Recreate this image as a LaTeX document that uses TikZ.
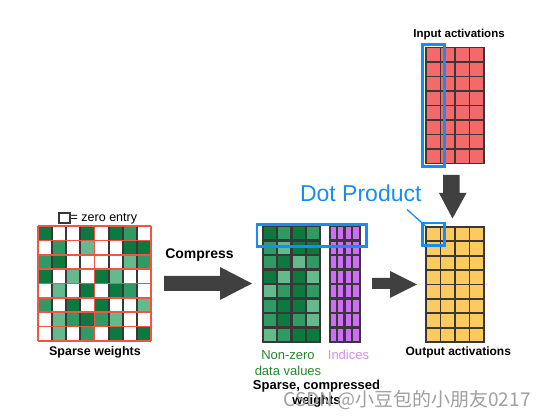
\documentclass[tikz,border=0pt]{standalone}
\usepackage{fontspec}
\setmainfont{Liberation Sans}
\newfontfamily\cjk{Noto Sans CJK SC}
\usetikzlibrary{calc}
\definecolor{wcell0}{RGB}{255,255,255}
\definecolor{wcell1}{RGB}{12,122,62}
\definecolor{wcell2}{RGB}{48,154,100}
\definecolor{wcell3}{RGB}{100,186,140}
\definecolor{redline}{RGB}{240,84,66}
\definecolor{gridgray}{RGB}{56,56,56}
\definecolor{arrowgray}{RGB}{64,64,64}
\definecolor{hiblue}{RGB}{24,140,240}
\definecolor{actred}{RGB}{244,106,106}
\definecolor{actyellow}{RGB}{253,202,96}
\definecolor{idxpurple}{RGB}{206,110,246}
\definecolor{idxtext}{RGB}{214,140,244}
\definecolor{nztext}{RGB}{34,136,44}
\def\fsz#1{\fontsize{#1}{#1}\selectfont}
\tikzset{
  lbl/.style={font=\bfseries\fsz{12}, inner sep=0pt},
  hibox/.style={draw=hiblue, line width=2.4pt},
  blockarrow/.style={fill=arrowgray},
}

\begin{document}
\begin{tikzpicture}[x=1pt, y=-1pt]
		%%%%% START %%%%%
		\useasboundingbox (0,0) rectangle (552,419);
		
		% sparse weights
		\foreach \row [count=\r from 0] in {{1,0,0,1,0,1,2,0},{0,2,0,3,0,0,1,1},{2,1,0,0,0,0,3,2},{1,0,3,0,1,3,0,0},{0,3,0,1,0,1,2,0},{2,0,1,0,1,0,0,3},{0,3,2,1,2,3,0,0},{0,3,0,2,0,1,0,1}}
			\foreach \c [count=\k from 0] in \row
				\fill[wcell\c] (38+\k*14.125, 226+\r*14.375) rectangle ++(14.125,14.375);
		\foreach \k in {1,2,3,5,6,7}
			\draw[gridgray, line width=1.8pt] (38+\k*14.125, 226) -- ++(0,115);
		\foreach \r in {0,...,8}
			\draw[redline, line width=1.6pt] (38, 226+\r*14.375) -- ++(113,0);
		\foreach \k in {0,4,8}
			\draw[redline, line width=1.6pt] (38+\k*14.125, 226) -- ++(0,115);
		
		\draw[gridgray, line width=2pt] (59,213.5) rectangle (69.5,223.5);
		\node[anchor=west, font=\fsz{12.5}, inner sep=0pt] (zerolabel) at (70.5,218.5) {= zero entry};
		\node[lbl, font=\bfseries\fsz{12.5}] (sparselabel) at (95,352.5) {Sparse weights};
		
		% compress
		\node[lbl, font=\bfseries\fsz{14}] (compresslabel) at (199.5,255) {Compress};
		\fill[blockarrow] (164,276) -- (220,276) -- (220,267) -- (252,283.5) -- (220,300) -- (220,291) -- (164,291) -- cycle;
		
		% non-zero data values
		\fill[gridgray] (262,226) rectangle (321,343);
		\foreach \row [count=\r from 0] in {{1,2,1,2},{2,3,1,1},{2,1,3,2},{1,3,1,3},{3,2,1,2},{2,1,1,3},{2,1,2,3},{3,2,1,1}}
			\foreach \c [count=\k from 0] in \row
				\fill[wcell\c] (263.5+\k*14.5, 227.5+\r*14.5) rectangle ++(12,12);
		
		% indices
		\fill[gridgray] (329,226) rectangle (361,343);
		\foreach \r in {0,...,7}
			\foreach \k in {0,...,3}
				\fill[idxpurple] (330.5+\k*7.6, 227.5+\r*14.5) rectangle ++(5.2,12);
		
		\draw[hibox] (257,224.5) rectangle (366.5,246.5);
		
		\node[text=nztext, font=\fontsize{13}{15.7}\selectfont, align=center, inner sep=0pt] (nzlabel) at (288,362.9) {Non-zero\\data values};
		\node[text=idxtext, font=\fsz{13}, inner sep=0pt] (idxlabel) at (348.5,355) {Indices};
		\node[lbl, font=\bfseries\fontsize{13}{15.7}\selectfont, align=center] (cmplabel) at (316.5,393.8) {Sparse, compressed\\weights};
		
		\fill[blockarrow] (372,278) -- (390,278) -- (390,271) -- (417,284.5) -- (390,298) -- (390,289) -- (372,289) -- cycle;
		
		% input activations
		\node[lbl, font=\bfseries\fsz{11.5}] (inlabel) at (459,35) {Input activations};
		\foreach \r in {0,...,7}
			\foreach \k in {0,...,3}
				\filldraw[fill=actred, draw=gridgray, line width=1.8pt] (426+\k*14.5, 47.5+\r*14.5) rectangle ++(14.5,14.5);
		\draw[hibox] (422.5,44.5) rectangle (444.5,166.5);
		
		\fill[blockarrow] (443,175) -- (459.5,175) -- (459.5,193) -- (466.5,193) -- (452.5,218.5) -- (439,193) -- (443,193) -- cycle;
		
		% output activations
		\foreach \r in {0,...,7}
			\foreach \k in {0,...,3}
				\filldraw[fill=actyellow, draw=gridgray, line width=1.8pt] (426+\k*14.5, 227+\r*14.4) rectangle ++(14.5,14.4);
		\draw[hibox] (422.5,223) rectangle (444.5,245.5);
		\node[lbl] (outlabel) at (458.3,352.7) {Output activations};
		
		% dot product
		\node[text=hiblue, font=\fsz{23}, anchor=base, inner sep=0pt] (dotlabel) at (360.8,201.7) {Dot Product};
		\coordinate (dotptr) at (407,209.5);
		\coordinate (outcorner) at (425.5,226);
		\draw[hiblue, line width=1.3pt] (dotptr) -- (outcorner);
		
		\node[text=gray!75, font=\cjk\fsz{19}, inner sep=0pt] (wmark) at (407,400) {CSDN @小豆包的小朋友0217};
		
		%%%%% END %%%%%
	\end{tikzpicture}
\end{document}
